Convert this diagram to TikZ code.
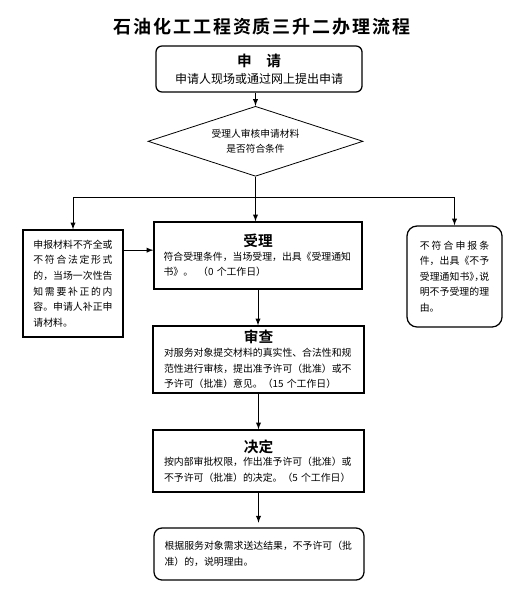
\documentclass[tikz,border=0pt]{standalone}
\usepackage{fontspec}
\setmainfont{Noto Sans CJK SC}[BoldFont={Noto Sans CJK SC Bold}]
\newfontfamily\titlefont{Noto Sans CJK SC Bold}[LetterSpace=11]
\usetikzlibrary{shapes.geometric}
\XeTeXlinebreaklocale "zh"
\XeTeXlinebreakskip=0pt plus 1em
\newcommand\headfont{\bfseries\fontsize{11pt}{15pt}\selectfont}

\begin{document}
\begin{tikzpicture}[>=latex, x=.75pt, y=-.75pt, line width=.75pt,
  every node/.style={inner sep=0pt},
  plain/.style={draw, line width=.95pt, font=\fontsize{7.4pt}{11.7pt}\selectfont},
  stage/.style={plain, text width=141.6pt, align=left}]
\useasboundingbox (0,0) rectangle (526,592);

\node[font=\titlefont\fontsize{13.5pt}{16pt}\selectfont] (title) at (262,27) {石油化工工程资质三升二办理流程};

\node[draw, line width=.95pt, rounded corners=4.5pt, minimum width=154.5pt, minimum height=34.5pt, align=center, font=\fontsize{9pt}{12.75pt}\selectfont] (apply) at (259,69) {{\bfseries\fontsize{11pt}{12.75pt}\selectfont 申　请}\\申请人现场或通过网上提出申请};
\node[draw, diamond, line width=.6pt, aspect=3.07, minimum width=161.25pt, minimum height=52.5pt, align=center, font=\fontsize{7.3pt}{11.25pt}\selectfont] (check) at (255.5,141.3) {受理人审核申请材料\\是否符合条件};

\node[plain, text width=59.4pt, align=justify, minimum width=75pt, minimum height=80.25pt] (fix) at (73,283.5) {申报材料不齐全或\linebreak 不符合法定形式\linebreak 的，当场一次性告\linebreak 知需要补正的内\linebreak 容。申请人补正申\linebreak 请材料。};
\node[stage, minimum width=156pt, minimum height=50.25pt] (accept) at (258,255.5) {{\centering\headfont 受理\par}\vspace{-1.4pt}符合受理条件，当场受理，出具《受理通知\\书》。\hspace{.5em}（0 个工作日）};
\node[plain, rounded corners=7.5pt, text width=52pt, align=justify, minimum width=71.25pt, minimum height=75.75pt] (refuse) at (454.5,276.5) {不符合申报条\linebreak 件，出具《不予\linebreak 受理通知书》\kern-.5em，\kern-.5em说\linebreak 明不予受理的理\linebreak 由。};

\node[stage, minimum width=158.25pt, minimum height=50.25pt] (review) at (258.5,359.5) {{\centering\headfont 审查\par}\vspace{-1.4pt}对服务对象提交材料的真实性、合法性和规\\范性进行审核，提出准予许可（批准）或不\\予许可（批准）意见。（15 个工作日）};
\node[stage, minimum width=158.25pt, minimum height=46.5pt] (decide) at (258.5,461) {{\centering\headfont 决定\par}\vspace{-1.4pt}按内部审批权限，作出准予许可（批准）或\\不予许可（批准）的决定。（5 个工作日）};
\node[stage, rounded corners=6pt, minimum width=157.5pt, minimum height=39pt] (deliver) at (259,554) {根据服务对象需求送达结果，不予许可（批\\准）的，说明理由。};

\coordinate (fork) at ([yshift=-15.5pt]check.south);
\draw[->] (apply.south -| check.north) -- (check.north);
\draw[->] (check.south) -- (check.south |- accept.north);
\draw[->] (fork) -| (fix.north);
\draw[->] (fork) -| (refuse.north);
\draw[->] ([yshift=25pt]fix.east) -- ([yshift=25pt]fix.east -| accept.west);
\draw[->] (accept.south) -- (accept.south |- review.north);
\draw[->] (review.south) -- (review.south |- decide.north);
\draw[->, shorten >=3.5pt] (decide.south) -- (decide.south |- deliver.north);
\end{tikzpicture}
\end{document}
